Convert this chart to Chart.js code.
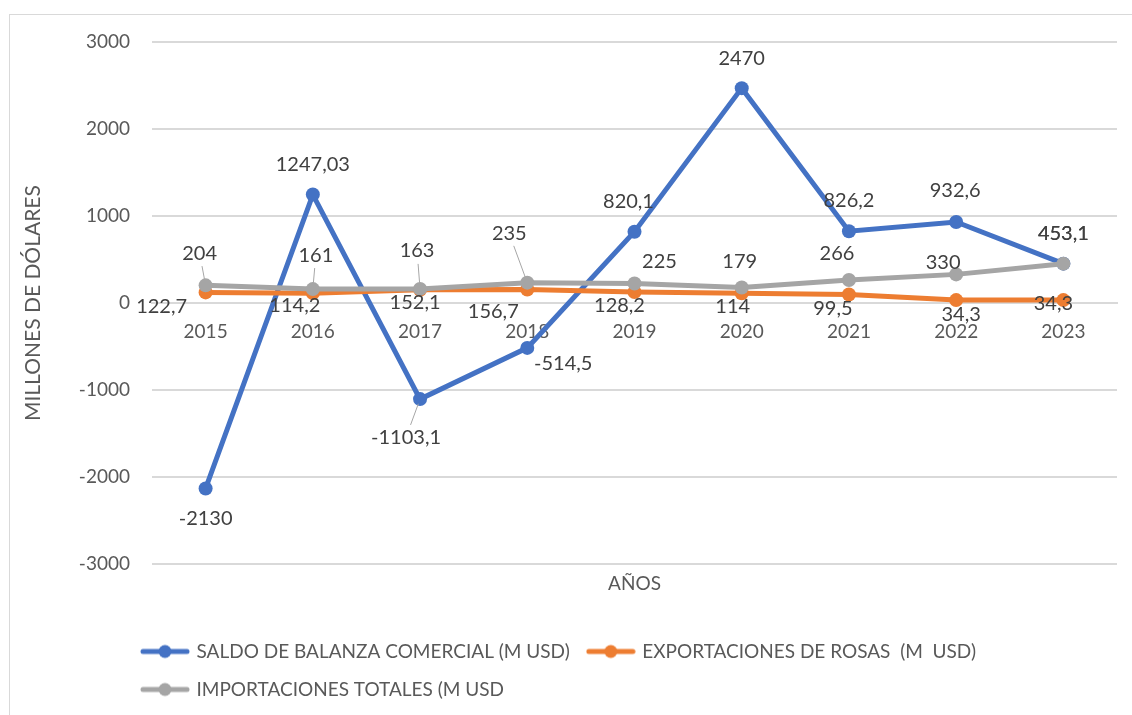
<!DOCTYPE html>
<html lang="es">
<head>
  <meta charset="UTF-8" />
  <title>Saldo de balanza comercial, exportaciones de rosas e importaciones</title>
  <script src="https://cdn.jsdelivr.net/npm/chart.js"></script>
  <style>
    html, body { margin: 0; padding: 0; background: #fff; }
    .frame { position: absolute; left: 9px; top: 14px; width: 1140px; height: 720px; border: 1px solid #d9d9d9; }
    .chart-box { position: absolute; left: 0; top: 0; width: 1132px; height: 715px; }
  </style>
</head>
<body>
  <div class="frame"></div>
  <div class="chart-box">
    <canvas id="balanzaChart" width="1132" height="715"></canvas>
  </div>

  <script>
    // Datos
    const years = ['2015', '2016', '2017', '2018', '2019', '2020', '2021', '2022', '2023'];
    const saldoBalanza = [-2130, 1247.03, -1103.1, -514.5, 820.1, 2470, 826.2, 932.6, 453.1];
    const exportRosas = [122.7, 114.2, 152.1, 156.7, 128.2, 114, 99.5, 34.3, 34.3];
    const importTotales = [204, 161, 163, 235, 225, 179, 266, 330, 453.1];
    const yTicks = [-3000, -2000, -1000, 0, 1000, 2000, 3000];

    const FONT = 'Lato, "Open Sans", sans-serif';
    const textColor = '#595959';
    const colors = ['#4472C4', '#ED7D31', '#A5A5A5'];

    // donde va cada etiqueta respecto a su punto: [dx, dy, lineaGuia]
    const labelPos = [
      [[0, 30], [0, -30], [-14, 38, 1], [36, 16], [-6, -30], [0, -30], [0, -31], [-1, -31], [0, -30]],
      [[-44, 14], [-18, 12], [-5, 13], [-34, 22], [-15, 14], [-9, 13], [-16, 14], [5, 14], [-10, 3]],
      [[-6, -32, 1], [3, -34, 1], [-3, -38, 1], [-18, -49, 1], [25, -22], [-2, -26], [-12, -26], [-13, -12], [0, -30]]
    ];

    const fmt = v => String(v).replace('.', ',');

    // icono de leyenda tipo Excel: linea con circulo
    function legendIcon(color) {
      const c = document.createElement('canvas');
      c.width = 50; c.height = 16;
      const g = c.getContext('2d');
      g.strokeStyle = color;
      g.lineWidth = 5;
      g.lineCap = 'round';
      g.beginPath(); g.moveTo(3, 8); g.lineTo(47, 8); g.stroke();
      g.fillStyle = color;
      g.beginPath(); g.arc(25, 8, 6.5, 0, Math.PI * 2); g.fill();
      return c;
    }
    const icons = colors.map(legendIcon);

    const dataLabels = {
      id: 'dataLabels',
      afterDatasetsDraw(chart) {
        const ctx = chart.ctx;
        ctx.save();
        ctx.font = '20px ' + FONT;
        ctx.textAlign = 'center';
        ctx.textBaseline = 'middle';
        chart.data.datasets.forEach((ds, i) => {
          chart.getDatasetMeta(i).data.forEach((pt, j) => {
            const [dx, dy, leader] = labelPos[i][j];
            if (leader) {
              const len = Math.hypot(dx, dy);
              const ux = dx / len, uy = dy / len;
              ctx.strokeStyle = '#a6a6a6';
              ctx.lineWidth = 1;
              ctx.beginPath();
              ctx.moveTo(pt.x + ux * 5, pt.y + uy * 5);
              ctx.lineTo(pt.x + ux * (len - 13), pt.y + uy * (len - 13));
              ctx.stroke();
            }
            ctx.fillStyle = '#404040';
            ctx.fillText(fmt(ds.data[j]), pt.x + dx, pt.y + dy);
          });
        });
        ctx.restore();
      }
    };

    // la leyenda de Excel arranca alineada a la izquierda del bloque
    const legendShift = {
      id: 'legendShift',
      afterLayout(chart) {
        chart.legend.left = 124;
      }
    };

    function serie(label, data, i, order) {
      return {
        label: label,
        data: data,
        borderColor: colors[i],
        backgroundColor: colors[i],
        pointBackgroundColor: colors[i],
        pointBorderColor: colors[i],
        borderWidth: 5,
        pointRadius: 7,
        pointBorderWidth: 0,
        pointHoverRadius: 7,
        tension: 0,
        order: order
      };
    }

    const ctx = document.getElementById('balanzaChart').getContext('2d');
    const balanzaChart = new Chart(ctx, {
      type: 'line',
      data: {
        labels: years,
        datasets: [
          serie('SALDO DE BALANZA COMERCIAL (M USD)', saldoBalanza, 0, 3),
          serie('EXPORTACIONES DE ROSAS  (M  USD)', exportRosas, 1, 2),
          serie('IMPORTACIONES TOTALES (M USD', importTotales, 2, 1)
        ]
      },
      options: {
        responsive: false,
        animation: false,
        devicePixelRatio: 1,
        layout: { padding: { top: 42, right: 15, bottom: 6, left: 0 } },
        plugins: {
          tooltip: { enabled: false },
          title: {
            display: true,
            text: 'AÑOS',
            position: 'bottom',
            fullSize: false,
            weight: 500,
            color: textColor,
            font: { family: FONT, size: 19, weight: 'normal' },
            padding: { top: 8, bottom: 28 }
          },
          legend: {
            position: 'bottom',
            align: 'start',
            labels: {
              usePointStyle: true,
              pointStyleWidth: 44,
              padding: 19,
              color: textColor,
              font: { family: FONT, size: 19 },
              sort: (a, b) => a.datasetIndex - b.datasetIndex,
              generateLabels(chart) {
                const items = Chart.defaults.plugins.legend.labels.generateLabels(chart);
                items.forEach(it => { it.pointStyle = icons[it.datasetIndex]; });
                return items;
              }
            }
          }
        },
        scales: {
          x: {
            position: { y: 0 },
            offset: true,
            grid: { display: false, drawTicks: false },
            border: { display: true, color: '#d9d9d9', width: 2 },
            ticks: {
              color: textColor,
              font: { family: FONT, size: 19 },
              padding: 17,
              maxRotation: 0,
              autoSkip: false
            }
          },
          y: {
            min: yTicks[0],
            max: yTicks[yTicks.length - 1],
            afterBuildTicks(scale) {
              scale.ticks = yTicks.map(v => ({ value: v }));
            },
            afterFit(scale) { scale.width = 152; },
            grid: { color: '#d9d9d9', lineWidth: 2, drawTicks: false },
            border: { display: false },
            ticks: {
              color: textColor,
              font: { family: FONT, size: 19 },
              padding: 22,
              callback: v => String(v)
            },
            title: {
              display: true,
              text: 'MILLONES DE DÓLARES',
              color: textColor,
              font: { family: FONT, size: 21, weight: 'normal' },
              padding: { top: 21, bottom: 0 }
            }
          }
        }
      },
      plugins: [dataLabels, legendShift]
    });
  </script>
</body>
</html>
